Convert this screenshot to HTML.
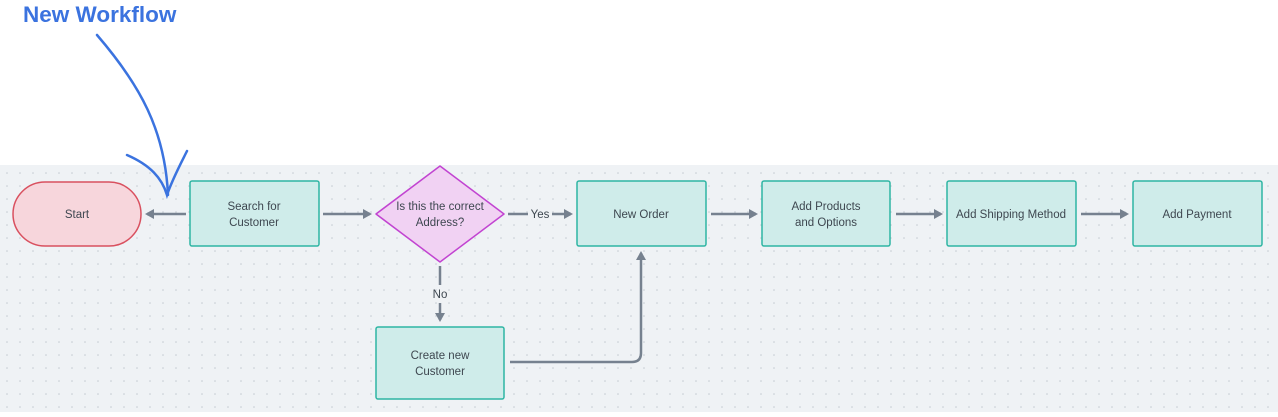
<!DOCTYPE html>
<html><head><meta charset="utf-8"><style>
body{margin:0;width:1278px;height:412px;overflow:hidden;background:#fff;font-family:"Liberation Sans",sans-serif;}
</style></head><body>
<svg width="1278" height="412" xmlns="http://www.w3.org/2000/svg">
<defs>
<pattern id="dots" width="13" height="13" patternUnits="userSpaceOnUse" x="5" y="2">
<circle cx="2" cy="2" r="0.8" fill="#c4cad2"/></pattern>
<marker id="a" markerWidth="10" markerHeight="10" refX="7" refY="5" orient="auto" markerUnits="userSpaceOnUse">
<path d="M0,0 L9,5 L0,10 z" fill="#76818f"/></marker>
</defs>
<rect x="0" y="165" width="1278" height="247" fill="#eff2f5"/>
<rect x="0" y="165" width="1278" height="247" fill="url(#dots)"/>
<text x="23" y="22" font-size="22.5" font-weight="bold" fill="#3b73df">New Workflow</text>
<g fill="none" stroke="#3b73df" stroke-width="2.5" stroke-linecap="round">
<path d="M97,35 C140,85 165,130 168,195"/>
<path d="M127,155 C150,165 162,178 167,195 C172,180 180,165 187,151"/>
</g>
<g stroke="#76818f" stroke-width="2.5" fill="none">
<line x1="186" y1="214" x2="147" y2="214" marker-end="url(#a)"/>
<line x1="323" y1="214" x2="370" y2="214" marker-end="url(#a)"/>
<line x1="508" y1="214" x2="528" y2="214"/>
<line x1="552" y1="214" x2="571" y2="214" marker-end="url(#a)"/>
<line x1="711" y1="214" x2="756" y2="214" marker-end="url(#a)"/>
<line x1="896" y1="214" x2="941" y2="214" marker-end="url(#a)"/>
<line x1="1081" y1="214" x2="1127" y2="214" marker-end="url(#a)"/>
<line x1="440" y1="266" x2="440" y2="285"/>
<line x1="440" y1="303" x2="440" y2="320" marker-end="url(#a)"/>
<path d="M510,362 H632 Q641,362 641,353 V253" marker-end="url(#a)"/>
</g>
<rect x="13" y="182" width="128" height="64" rx="32" fill="#f7d6dc" stroke="#d9505f" stroke-width="1.5"/>
<g fill="#cfecea" stroke="#2fb5a3" stroke-width="1.5">
<rect x="190" y="181" width="129" height="65" rx="2"/>
<rect x="577" y="181" width="129" height="65" rx="2"/>
<rect x="762" y="181" width="128" height="65" rx="2"/>
<rect x="947" y="181" width="129" height="65" rx="2"/>
<rect x="1133" y="181" width="129" height="65" rx="2"/>
<rect x="376" y="327" width="128" height="72" rx="2"/>
</g>
<polygon points="440,166 504,214 440,262 376,214" fill="#f1d2f3" stroke="#c244d1" stroke-width="1.5" stroke-linejoin="round"/>
<g font-size="11.5" fill="#3e4750" text-anchor="middle">
<text x="77" y="218">Start</text>
<text x="254" y="210">Search for</text><text x="254" y="226">Customer</text>
<text x="440" y="210">Is this the correct</text><text x="440" y="226">Address?</text>
<text x="540" y="218">Yes</text>
<text x="440" y="298">No</text>
<text x="641" y="218">New Order</text>
<text x="826" y="210">Add Products</text><text x="826" y="226">and Options</text>
<text x="1011" y="218">Add Shipping Method</text>
<text x="1197" y="218">Add Payment</text>
<text x="440" y="359">Create new</text><text x="440" y="375">Customer</text>
</g>
</svg>
</body></html>
